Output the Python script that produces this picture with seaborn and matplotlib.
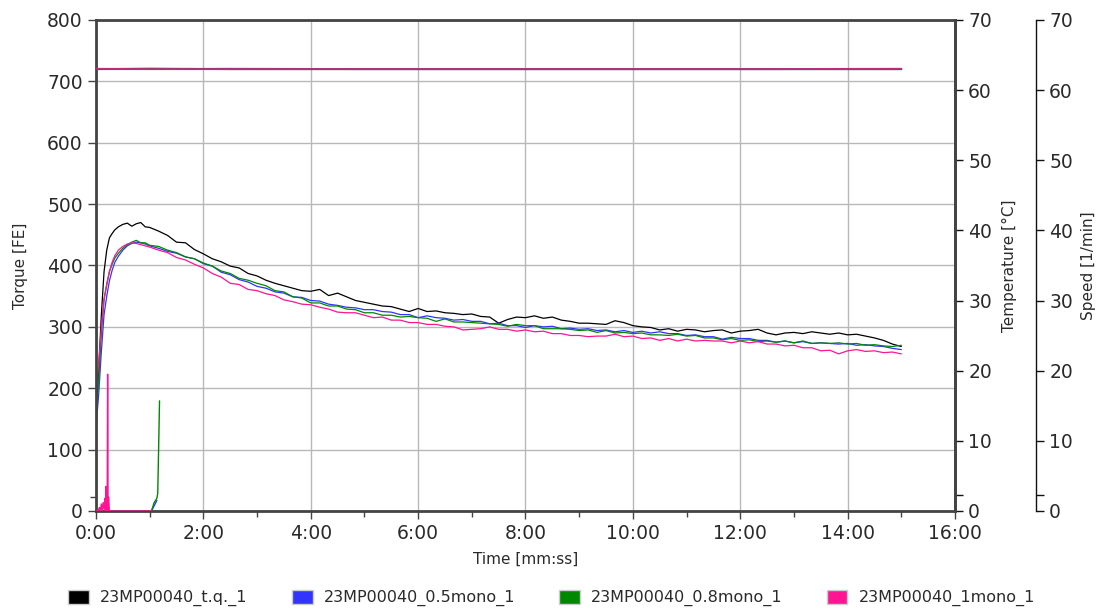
import numpy as np
import pandas as pd
import matplotlib
matplotlib.use("Agg")
import matplotlib.pyplot as plt
import seaborn as sns
from matplotlib.patches import Patch
from matplotlib.ticker import FuncFormatter, MultipleLocator, FixedLocator

# ---------------- data ----------------
series_names = ["23MP00040_t.q._1", "23MP00040_0.5mono_1",
                "23MP00040_0.8mono_1", "23MP00040_1mono_1"]
colors = ["#000000", "#3333ff", "#008800", "#ff1493"]

# time in seconds
time_s = [0, 3, 6, 9, 12, 15, 18, 21, 25, 30, 35, 40, 45, 50, 55,
          60, 70, 80, 90, 100, 110, 120, 130, 140, 150, 160, 170, 180, 190,
          200, 210, 220, 230, 240, 250, 260, 270, 280, 290, 300, 310, 320,
          330, 340, 350, 360, 370, 380, 390, 400, 410, 420, 430, 440, 450,
          460, 470, 480, 490, 500, 510, 520, 530, 540, 550, 560, 570, 580,
          590, 600, 610, 620, 630, 640, 650, 660, 670, 680, 690, 700, 710,
          720, 730, 740, 750, 760, 770, 780, 790, 800, 810, 820, 830, 840,
          850, 860, 870, 880, 890, 900]

torque_tq = [150, 230, 320, 390, 425, 445, 452, 458, 463, 467, 469, 464, 468, 470, 463,
             462, 456, 449, 438, 437, 426, 419, 411, 406, 399, 396, 387, 383, 376,
             371, 367, 363, 359, 358, 361, 351, 355, 349, 343, 340, 337, 334,
             333, 329, 325, 330, 325, 326, 323, 322, 320, 321, 317, 316, 306,
             312, 316, 315, 318, 314, 316, 311, 309, 306, 306, 305, 304, 310,
             307, 302, 300, 299, 295, 297, 293, 296, 295, 292, 294, 295, 290,
             293, 294, 296, 290, 287, 290, 291, 289, 292, 290, 288, 290, 287,
             288, 285, 282, 278, 272, 268]

torque_05 = [135, 190, 260, 320, 350, 375, 392, 405, 415, 425, 432, 436, 438, 437, 435,
             432, 428, 423, 420, 414, 411, 403, 399, 389, 385, 377, 373, 366, 363,
             357, 355, 349, 348, 343, 342, 337, 335, 332, 331, 328, 328, 325,
             324, 320, 320, 315, 318, 315, 314, 311, 312, 309, 309, 305, 306,
             302, 302, 299, 302, 300, 301, 297, 298, 296, 297, 294, 295, 292,
             294, 291, 293, 290, 292, 289, 289, 286, 287, 284, 284, 280, 283,
             281, 281, 278, 278, 275, 277, 274, 276, 273, 274, 273, 272, 273,
             270, 271, 269, 268, 265, 263]

torque_08 = [150, 210, 290, 345, 370, 390, 402, 412, 420, 428, 434, 438, 441, 437, 437,
             433, 431, 425, 421, 414, 411, 404, 399, 391, 387, 379, 376, 371, 367,
             359, 357, 349, 347, 339, 339, 334, 334, 329, 328, 323, 323, 319,
             319, 316, 317, 315, 314, 309, 313, 308, 308, 307, 306, 305, 304,
             301, 304, 302, 302, 297, 297, 297, 296, 294, 295, 291, 294, 290,
             291, 289, 290, 287, 287, 286, 288, 285, 286, 282, 282, 279, 281,
             278, 279, 276, 277, 275, 277, 274, 277, 273, 274, 273, 274, 272,
             273, 270, 271, 269, 268, 270]

torque_1 = [190, 240, 300, 345, 368, 390, 405, 416, 425, 431, 435, 437, 436, 434, 432,
            430, 425, 421, 413, 409, 402, 396, 387, 381, 371, 369, 361, 359, 354,
            351, 344, 341, 337, 336, 332, 329, 324, 323, 323, 319, 315, 316,
            311, 311, 307, 307, 304, 304, 301, 300, 295, 296, 297, 300, 296,
            296, 293, 295, 292, 293, 289, 289, 286, 286, 284, 285, 285, 288,
            284, 285, 281, 282, 278, 281, 277, 280, 277, 278, 277, 277, 274,
            277, 274, 276, 272, 272, 269, 270, 266, 266, 261, 262, 256, 261,
            263, 260, 261, 258, 259, 256]

# temperature [°C] (short records at start)
temp_time_tq = [0, 62]
temp_tq = [0, 0]
temp_time_05 = [0, 62, 64, 66, 68]
temp_05 = [0, 0, 0.5, 1.0, 1.5]
temp_time_08 = [0, 62, 65, 68, 69, 70, 71]
temp_08 = [0, 0, 1.2, 1.8, 2.5, 9.0, 15.7]
temp_time_1 = [0, 2, 4, 5, 6, 7, 8, 9, 10, 10.5, 11, 11.5, 12, 12.5, 13,
               13.5, 14, 15, 16, 62]
temp_1 = [0, 0, 0.5, 0, 1.0, 0, 1.2, 0.3, 1.8, 0, 3.5, 0.5, 3.0, 0, 19.5,
          0, 2.0, 0, 0, 0]

# speed [1/min]
speed_time = [0, 60, 150, 300, 450, 600, 750, 900]
speed_tq = [63.0, 63.05, 63.0, 63.0, 63.0, 63.0, 63.0, 63.0]
speed_05 = [63.0, 63.0, 63.05, 63.0, 63.0, 63.0, 63.0, 63.0]
speed_08 = [63.0, 63.05, 63.0, 63.0, 63.0, 63.0, 63.0, 63.0]
speed_1 = [63.05, 63.0, 63.0, 63.0, 63.0, 63.0, 63.0, 63.05]

# ---------------- frames ----------------
torque_vals = [torque_tq, torque_05, torque_08, torque_1]
df_torque = pd.concat([pd.DataFrame({"time": time_s, "value": v, "series": n})
                       for n, v in zip(series_names, torque_vals)], ignore_index=True)
df_temp = pd.concat([pd.DataFrame({"time": t, "value": v, "series": n})
                     for n, t, v in zip(series_names,
                                        [temp_time_tq, temp_time_05, temp_time_08, temp_time_1],
                                        [temp_tq, temp_05, temp_08, temp_1])], ignore_index=True)
df_speed = pd.concat([pd.DataFrame({"time": speed_time, "value": v, "series": n})
                      for n, v in zip(series_names, [speed_tq, speed_05, speed_08, speed_1])],
                     ignore_index=True)
palette = dict(zip(series_names, colors))

# ---------------- plot ----------------
sns.set_style("ticks")
plt.rcParams['font.family'] = ['DejaVu Sans']

fig = plt.figure(figsize=(10.99, 6.08), dpi=100)
ax = fig.add_axes([0.08735, 0.15954, 0.78162, 0.80757])
ax_t = ax.twinx()
ax_s = ax.twinx()

sns.lineplot(data=df_torque, x="time", y="value", hue="series", palette=palette,
             estimator=None, sort=False, linewidth=0.9, legend=False, ax=ax)
sns.lineplot(data=df_temp, x="time", y="value", hue="series", palette=palette,
             estimator=None, sort=False, linewidth=1.0, legend=False, ax=ax_t)
sns.lineplot(data=df_speed, x="time", y="value", hue="series", palette=palette,
             estimator=None, sort=False, linewidth=1.4, legend=False, ax=ax_s, alpha=0.7)

tick_col = "#2a2a2a"
spine_col = "#444444"

ax.set_xlim(0, 960)
ax.set_ylim(0, 800)
ax_t.set_ylim(0, 70)
ax_s.set_ylim(0, 70)

ax.xaxis.set_major_locator(MultipleLocator(120))
ax.xaxis.set_minor_locator(MultipleLocator(60))
ax.xaxis.set_major_formatter(FuncFormatter(lambda v, p: f"{int(v // 60)}:{int(v % 60):02d}"))
ax.yaxis.set_major_locator(MultipleLocator(100))
ax.yaxis.set_minor_locator(FixedLocator([22]))
for a in (ax_t, ax_s):
    a.yaxis.set_major_locator(MultipleLocator(10))
    a.yaxis.set_minor_locator(FixedLocator([2.3]))

ax.grid(True, which="major", color="#b8b8b8", linewidth=1)
ax.set_axisbelow(True)

for s in ax.spines.values():
    s.set_color(spine_col)
    s.set_linewidth(2)
for name in ("left", "top", "bottom"):
    ax_t.spines[name].set_visible(False)
ax_t.spines["right"].set_color(spine_col)
ax_t.spines["right"].set_linewidth(2)
for name in ("left", "top", "bottom"):
    ax_s.spines[name].set_visible(False)
ax_s.spines["right"].set_position(("axes", 1.0943))
ax_s.spines["right"].set_color("#111111")
ax_s.spines["right"].set_linewidth(1)

ax.tick_params(axis="both", which="major", labelsize=13.5, labelcolor=tick_col,
               color=spine_col, length=6, width=1, direction="out")
ax.tick_params(axis="both", which="minor", color=spine_col, length=4, width=1)
for a in (ax_t, ax_s):
    a.tick_params(axis="y", which="major", labelsize=13.5, labelcolor=tick_col,
                  color="#111111", length=6, width=1)
    a.tick_params(axis="y", which="minor", color="#111111", length=6, width=1)

ax.set_xlabel("Time [mm:ss]", fontsize=11, color=tick_col, labelpad=6)
ax.set_ylabel("Torque [FE]", fontsize=11, color=tick_col, labelpad=14)
ax_t.set_ylabel("Temperature [°C]", fontsize=11, color=tick_col, labelpad=7)
ax_s.set_ylabel("Speed [1/min]", fontsize=11, color=tick_col, labelpad=6)

handles = [Patch(facecolor=c, edgecolor="#cccccc", linewidth=1) for c in colors]
fig.legend(handles=handles, labels=series_names, loc="center",
           bbox_to_anchor=(0.502, 0.0165), ncol=4, frameon=False, fontsize=11.5,
           handlelength=1.3, handleheight=1.0, handletextpad=0.7,
           columnspacing=2.75, labelcolor=tick_col)

fig.savefig("out.png", dpi=100)
